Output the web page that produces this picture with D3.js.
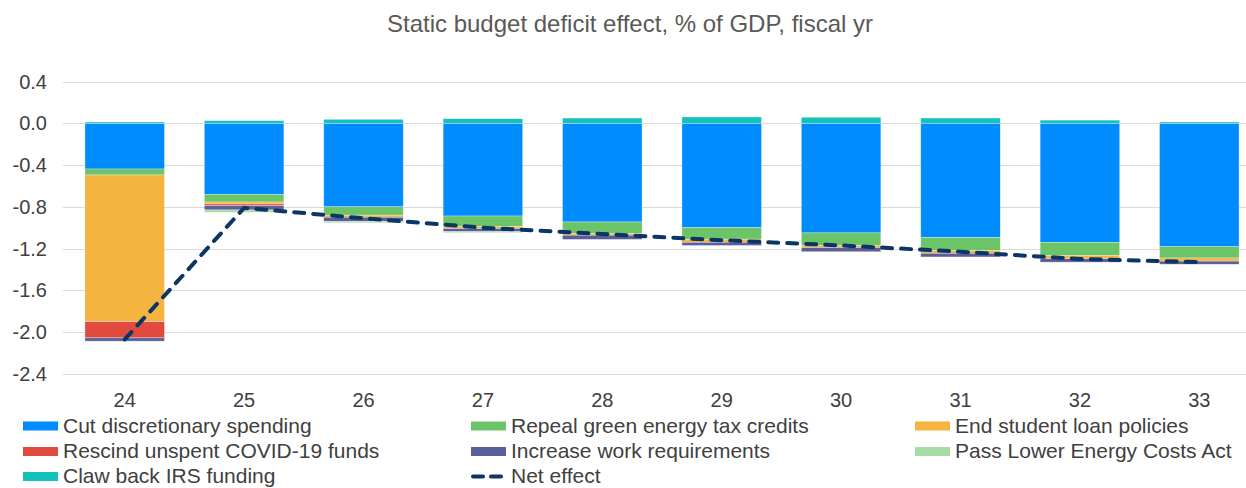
<!DOCTYPE html>
<html><head><meta charset="utf-8">
<script src="https://cdn.jsdelivr.net/npm/d3@7"></script>
<style>body{margin:0;background:#fff;} text{font-family:"Liberation Sans",Arial,sans-serif;}</style>
</head><body><svg id="c" width="1246" height="488"></svg>
<script>
const years = ["24","25","26","27","28","29","30","31","32","33"];
const cutSpending = [-0.438,-0.68,-0.80,-0.888,-0.945,-1.00,-1.05,-1.095,-1.14,-1.182];
const greenCredits = [-0.057,-0.074,-0.08,-0.10,-0.11,-0.11,-0.12,-0.125,-0.128,-0.108];
const studentLoans = [-1.405,-0.019,-0.02,-0.02,-0.017,-0.03,-0.02,-0.025,-0.029,-0.03];
const covidFunds = [-0.155,-0.017,0,0,0,0,0,0,0,0];
const workReq = [-0.032,-0.04,-0.04,-0.03,-0.04,-0.03,-0.04,-0.035,-0.033,-0.03];
const lowerEnergy = [-0.003,-0.023,-0.013,-0.01,0,0,0,0,0,0];
const irsFunding = [0.012,0.025,0.038,0.044,0.05,0.06,0.058,0.05,0.03,0.012];
const netEffect = [-2.07,-0.81,-0.91,-1.00,-1.06,-1.12,-1.17,-1.23,-1.30,-1.33];
const yTicks = [0.4,0.0,-0.4,-0.8,-1.2,-1.6,-2.0,-2.4];

const seriesDefs = [
  {key:"cut", name:"Cut discretionary spending", vals:cutSpending, color:"#008cff"},
  {key:"green", name:"Repeal green energy tax credits", vals:greenCredits, color:"#6cc468"},
  {key:"loan", name:"End student loan policies", vals:studentLoans, color:"#f4b43f"},
  {key:"covid", name:"Rescind unspent COVID-19 funds", vals:covidFunds, color:"#e04a3f"},
  {key:"work", name:"Increase work requirements", vals:workReq, color:"#5b5f99"},
  {key:"energy", name:"Pass Lower Energy Costs Act", vals:lowerEnergy, color:"#a8dca4"},
  {key:"irs", name:"Claw back IRS funding", vals:irsFunding, color:"#12c3bb"}
];

const table = years.map((y,i)=>{const o={year:y}; seriesDefs.forEach(s=>o[s.key]=s.vals[i]); return o;});
const stack = d3.stack().keys(seriesDefs.map(s=>s.key)).offset(d3.stackOffsetDiverging);
const stacked = stack(table);

const svg = d3.select("#c");
const x = d3.scaleBand().domain(years).range([65,1259]).paddingInner(0.334).paddingOuter(0.167);
const y = d3.scaleLinear().domain([-2.4,0.4]).range([373.9,81.5]);

svg.append("text").attr("x",630).attr("y",32).attr("text-anchor","middle")
  .attr("font-size",24).attr("fill","#595959").text("Static budget deficit effect, % of GDP, fiscal yr");

// gridlines
svg.append("g").selectAll("line").data(yTicks).join("line")
  .attr("x1",63).attr("x2",1246).attr("y1",d=>Math.round(y(d))+0.5).attr("y2",d=>Math.round(y(d))+0.5)
  .attr("stroke","#d9d9d9").attr("stroke-width",1);

// y labels
svg.append("g").selectAll("text").data(yTicks).join("text")
  .attr("x",47).attr("y",d=>y(d)).attr("dy","0.35em").attr("text-anchor","end")
  .attr("font-size",20).attr("fill","#404040").text(d=>d3.format(".1f")(d).replace("−","-"));

// bars
const g = svg.append("g");
stacked.forEach((layer,li)=>{
  g.append("g").selectAll("rect").data(layer).join("rect")
    .attr("x",d=>x(d.data.year)).attr("width",x.bandwidth())
    .attr("y",d=>y(Math.max(d[0],d[1]))).attr("height",d=>Math.abs(y(d[0])-y(d[1])))
    .attr("fill",seriesDefs[li].color)
    .attr("stroke","#ffffff").attr("stroke-opacity",0.5).attr("stroke-width",0.6);
});

// x labels
svg.append("g").selectAll("text").data(years).join("text")
  .attr("x",d=>x(d)+x.bandwidth()/2).attr("y",406.5).attr("text-anchor","middle")
  .attr("font-size",20).attr("fill","#404040").text(d=>d);

// net line
const line = d3.line().x((d,i)=>x(years[i])+x.bandwidth()/2).y(d=>y(d));
svg.append("path").datum(netEffect).attr("d",line).attr("fill","none")
  .attr("stroke","#0b3564").attr("stroke-width",4).attr("stroke-dasharray","10,9").attr("stroke-linecap","round");

// legend
const legendItems = seriesDefs.map(s=>({name:s.name,color:s.color,type:"rect"}));
legendItems.push({name:"Net effect",color:"#0b3564",type:"line"});
const colX = [23,471,915], rowY=[426,451.5,476.5];
const lg = svg.append("g");
legendItems.forEach((it,i)=>{
  const cx = colX[i%3], cy = rowY[Math.floor(i/3)];
  if(it.type==="rect"){
    lg.append("rect").attr("x",cx).attr("y",cy-4.5).attr("width",35).attr("height",9).attr("fill",it.color);
  } else {
    lg.append("line").attr("x1",cx+2).attr("x2",cx+34).attr("y1",cy).attr("y2",cy)
      .attr("stroke",it.color).attr("stroke-width",4).attr("stroke-dasharray","10,8").attr("stroke-linecap","round");
  }
  lg.append("text").attr("x",cx+40).attr("y",cy+6.8).attr("font-size",21)
    .attr("fill","#404040").text(it.name);
});
</script></body></html>
